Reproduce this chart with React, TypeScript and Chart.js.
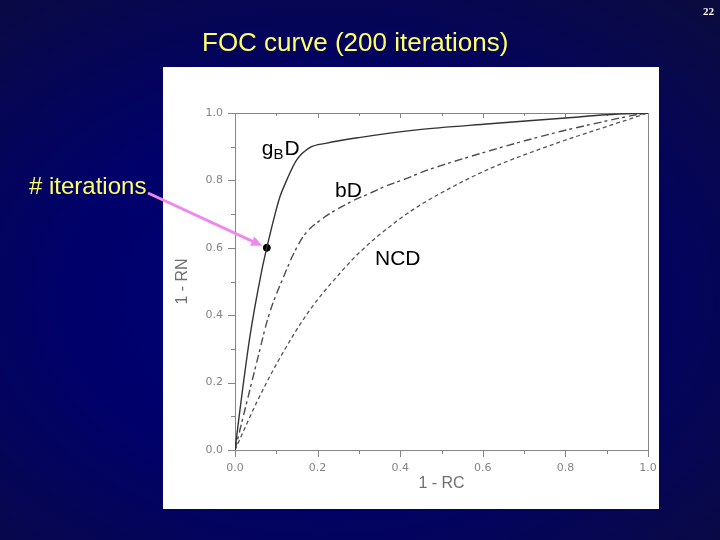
import { useEffect, useRef } from "react"
import { Chart, registerables } from "chart.js"
import type { Plugin } from "chart.js"

// Register Chart.js components
Chart.register(...registerables)

// gBD curve (solid)
const gbdX = [0, 0.005, 0.012, 0.036, 0.065, 0.077, 0.097, 0.109, 0.125, 0.149, 0.182, 0.22, 0.3, 0.44, 0.617, 0.8, 0.9, 1.0]
const gbdY = [0, 0.05, 0.119, 0.336, 0.534, 0.6, 0.7, 0.752, 0.8, 0.86, 0.898, 0.91, 0.927, 0.95, 0.968, 0.985, 0.995, 1.0]

// bD curve (dash-dot)
const bdX = [0, 0.012, 0.028, 0.056, 0.081, 0.121, 0.145, 0.169, 0.21, 0.278, 0.327, 0.371, 0.416, 0.456, 0.504, 0.617, 0.706, 0.79, 0.876, 0.964, 1.0]
const bdY = [0, 0.06, 0.139, 0.277, 0.396, 0.524, 0.59, 0.64, 0.685, 0.735, 0.762, 0.786, 0.806, 0.826, 0.846, 0.888, 0.919, 0.946, 0.97, 0.993, 1.0]

// NCD curve (dashed)
const ncdX = [0, 0.052, 0.105, 0.178, 0.258, 0.303, 0.351, 0.432, 0.513, 0.617, 0.714, 0.811, 0.908, 1.0]
const ncdY = [0, 0.14, 0.265, 0.41, 0.53, 0.588, 0.64, 0.714, 0.772, 0.835, 0.882, 0.924, 0.963, 1.0]

// the "# iterations" point on the gBD curve
const markerX = [0.077]
const markerY = [0.6]

// axis ticks
const majorTicks = [0, 0.2, 0.4, 0.6, 0.8, 1.0]
const minorTicks = [0.1, 0.3, 0.5, 0.7, 0.9]

// curve names and where they sit (data units, text baseline)
const curveNames = ["g", "bD", "NCD"]
const nameX = [0.065, 0.242, 0.339]
const nameY = [0.875, 0.752, 0.549]

const toPoints = (xs: number[], ys: number[]) => xs.map((x, i) => ({ x, y: ys[i] }))

const AXIS_GRAY = "#858585"

const slidePlugin: Plugin<"line"> = {
  id: "slide",
  beforeDraw(chart) {
    const { ctx, chartArea: a } = chart
    // white figure panel
    ctx.save()
    ctx.fillStyle = "#ffffff"
    ctx.fillRect(a.left - 72, a.top - 46, a.right - a.left + 83, a.bottom - a.top + 105)
    ctx.restore()
  },
  beforeDatasetsDraw(chart) {
    const { ctx, chartArea: a } = chart
    const xs = chart.scales.x
    const ys = chart.scales.y
    ctx.save()
    ctx.strokeStyle = AXIS_GRAY
    ctx.lineWidth = 1
    ctx.beginPath()
    // top and right frame
    ctx.moveTo(a.left, a.top + 0.5)
    ctx.lineTo(a.right + 0.5, a.top + 0.5)
    ctx.lineTo(a.right + 0.5, a.bottom)
    const tick = (v: number, major: boolean) => {
      const px = Math.round(xs.getPixelForValue(v)) + 0.5
      const py = Math.round(ys.getPixelForValue(v)) + 0.5
      const out = major ? 7 : 4
      const inn = major ? 5 : 3
      ctx.moveTo(px, a.bottom)
      ctx.lineTo(px, a.bottom + out)
      ctx.moveTo(px, a.top)
      ctx.lineTo(px, a.top + inn)
      ctx.moveTo(a.left, py)
      ctx.lineTo(a.left - out, py)
    }
    majorTicks.forEach((v) => tick(v, true))
    minorTicks.forEach((v) => tick(v, false))
    ctx.stroke()
    ctx.restore()
  },
  afterDatasetsDraw(chart) {
    const { ctx } = chart
    const xs = chart.scales.x
    const ys = chart.scales.y
    ctx.save()
    ctx.fillStyle = "#000000"
    ctx.textBaseline = "alphabetic"
    ctx.textAlign = "left"
    curveNames.forEach((name, i) => {
      let px = xs.getPixelForValue(nameX[i])
      const py = ys.getPixelForValue(nameY[i])
      ctx.font = "21px 'Liberation Sans', Arial, sans-serif"
      ctx.fillText(name, px, py)
      if (i === 0) {
        // g with subscript B, then D
        px += ctx.measureText(name).width
        ctx.font = "15px 'Liberation Sans', Arial, sans-serif"
        ctx.fillText("B", px, py + 4)
        px += ctx.measureText("B").width + 1
        ctx.font = "21px 'Liberation Sans', Arial, sans-serif"
        ctx.fillText("D", px, py)
      }
    })
    ctx.restore()
  },
  afterDraw(chart) {
    const { ctx } = chart
    const xs = chart.scales.x
    const ys = chart.scales.y
    // arrow from "# iterations" to the marked point
    const sx = 148
    const sy = 193
    const mx = xs.getPixelForValue(markerX[0])
    const my = ys.getPixelForValue(markerY[0])
    const ang = Math.atan2(my - sy, mx - sx)
    const tx = mx - 5 * Math.cos(ang)
    const ty = my - 5 * Math.sin(ang)
    const head = 11
    ctx.save()
    ctx.strokeStyle = "#ee88ee"
    ctx.fillStyle = "#ee88ee"
    ctx.lineWidth = 3
    ctx.beginPath()
    ctx.moveTo(sx, sy)
    ctx.lineTo(tx - head * 0.8 * Math.cos(ang), ty - head * 0.8 * Math.sin(ang))
    ctx.stroke()
    ctx.beginPath()
    ctx.moveTo(tx, ty)
    ctx.lineTo(tx - head * Math.cos(ang) + 5 * Math.sin(ang), ty - head * Math.sin(ang) - 5 * Math.cos(ang))
    ctx.lineTo(tx - head * Math.cos(ang) - 5 * Math.sin(ang), ty - head * Math.sin(ang) + 5 * Math.cos(ang))
    ctx.closePath()
    ctx.fill()
    ctx.restore()
  },
}

function FocChart() {
  const chartRef = useRef<HTMLCanvasElement>(null)
  const chartInstance = useRef<Chart | null>(null)

  useEffect(() => {
    if (!chartRef.current) return
    if (chartInstance.current) chartInstance.current.destroy()
    const ctx = chartRef.current.getContext("2d")
    if (!ctx) return

    const axisCommon = {
      type: "linear" as const,
      min: 0,
      max: 1,
      grid: { display: false, drawTicks: false },
      border: { display: true, color: AXIS_GRAY, width: 1 },
      afterBuildTicks: (scale: any) => {
        scale.ticks = majorTicks.map((value) => ({ value }))
      },
    }

    chartInstance.current = new Chart(ctx, {
      type: "line",
      data: {
        datasets: [
          {
            label: "gBD",
            data: toPoints(gbdX, gbdY),
            borderColor: "#333333",
            borderWidth: 1.4,
            pointRadius: 0,
            cubicInterpolationMode: "monotone",
          },
          {
            label: "bD",
            data: toPoints(bdX, bdY),
            borderColor: "#4d4d4d",
            borderWidth: 1.4,
            borderDash: [8, 3, 3, 4],
            pointRadius: 0,
            cubicInterpolationMode: "monotone",
          },
          {
            label: "NCD",
            data: toPoints(ncdX, ncdY),
            borderColor: "#555555",
            borderWidth: 1.3,
            borderDash: [4, 3],
            pointRadius: 0,
            cubicInterpolationMode: "monotone",
          },
          {
            label: "# iterations",
            data: toPoints(markerX, markerY),
            showLine: false,
            pointRadius: 3.5,
            pointBackgroundColor: "#000000",
            pointBorderColor: "#000000",
          },
        ],
      },
      options: {
        animation: false,
        responsive: true,
        maintainAspectRatio: false,
        layout: { padding: { left: 163, top: 113, right: 72, bottom: 31 } },
        plugins: {
          legend: { display: false },
          title: { display: false },
          tooltip: { enabled: false },
        },
        scales: {
          x: {
            ...axisCommon,
            afterFit: (scale: any) => {
              scale.height = 59
            },
            ticks: {
              padding: 12,
              color: AXIS_GRAY,
              font: { family: "'DejaVu Sans', sans-serif", size: 11 },
              callback: (v: any) => Number(v).toFixed(1),
            },
            title: {
              display: true,
              text: "1 - RC",
              color: "#707070",
              font: { family: "'Liberation Sans', Arial, sans-serif", size: 16 },
              padding: { top: 0, bottom: 16 },
            },
          },
          y: {
            ...axisCommon,
            afterFit: (scale: any) => {
              scale.width = 72
            },
            ticks: {
              padding: 12,
              color: AXIS_GRAY,
              font: { family: "'DejaVu Sans', sans-serif", size: 11 },
              callback: (v: any) => Number(v).toFixed(1),
            },
            title: {
              display: true,
              text: "1 - RN",
              color: "#707070",
              font: { family: "'Liberation Sans', Arial, sans-serif", size: 16 },
              padding: { top: 10, bottom: 0 },
            },
          },
        },
      },
      plugins: [slidePlugin],
    })

    return () => {
      if (chartInstance.current) {
        chartInstance.current.destroy()
        chartInstance.current = null
      }
    }
  }, [])

  return <canvas ref={chartRef} />
}

export default function App() {
  return (
    <div
      style={{
        position: "fixed",
        left: 0,
        top: 0,
        width: 720,
        height: 540,
        overflow: "hidden",
        background: "radial-gradient(ellipse 80% 75% at 45% 55%, #00007a 0%, #00006a 45%, #0b0b3e 100%)",
        fontFamily: "'Liberation Sans', Arial, sans-serif",
      }}
    >
      <div style={{ position: "absolute", right: 6, top: 5, color: "#ffffff", fontFamily: "'Liberation Serif', serif", fontWeight: "bold", fontSize: 11 }}>
        22
      </div>
      <div style={{ position: "absolute", left: 202, top: 26, color: "#ffff66", fontSize: 26, lineHeight: "32px", whiteSpace: "nowrap" }}>
        FOC curve (200 iterations)
      </div>
      <div style={{ position: "absolute", left: 29, top: 172, color: "#ffff66", fontSize: 24, lineHeight: "28px", whiteSpace: "nowrap" }}>
        # iterations
      </div>
      <div style={{ position: "absolute", left: 0, top: 0, width: 720, height: 540 }}>
        <FocChart />
      </div>
    </div>
  )
}
